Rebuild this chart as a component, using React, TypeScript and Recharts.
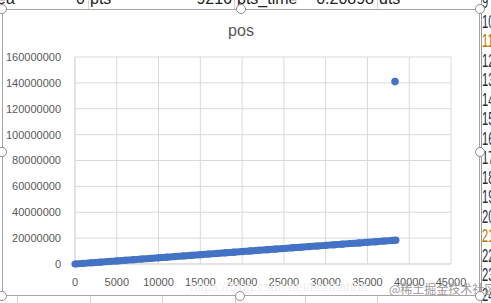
import {
  CartesianGrid,
  Scatter,
  ScatterChart,
  XAxis,
  YAxis,
} from "recharts";

// packet index vs byte position
const packetIdx = [
  0, 1000, 2000, 3000, 4000, 5000, 6000, 7000, 8000, 9000, 10000, 11000, 12000,
  13000, 14000, 15000, 16000, 17000, 18000, 19000, 20000, 21000, 22000, 23000,
  24000, 25000, 26000, 27000, 28000, 29000, 30000, 31000, 32000, 33000, 34000,
  35000, 36000, 37000, 38000, 38400,
];
const bytePos = [
  0, 480000, 960000, 1440000, 1920000, 2400000, 2880000, 3360000, 3840000,
  4320000, 4800000, 5280000, 5760000, 6240000, 6720000, 7200000, 7680000,
  8160000, 8640000, 9120000, 9600000, 10080000, 10560000, 11040000, 11520000,
  12000000, 12480000, 12960000, 13440000, 13920000, 14400000, 14880000,
  15360000, 15840000, 16320000, 16800000, 17280000, 17760000, 18240000,
  18430000,
];
const outlierIdx = [38300];
const outlierPos = [141000000];

const xTicks = [0, 5000, 10000, 15000, 20000, 25000, 30000, 35000, 40000, 45000];
const yTicks = [
  0, 20000000, 40000000, 60000000, 80000000, 100000000, 120000000, 140000000,
  160000000,
];

const topCells = [
  { text: "ea", left: -3, right: undefined },
  { text: "0", left: undefined, right: 491 - 85 },
  { text: "pts", left: 90, right: undefined },
  { text: "9216", left: undefined, right: 491 - 232 },
  { text: "pts_time", left: 237, right: undefined },
  { text: "0.20898", left: undefined, right: 491 - 374 },
  { text: "dts", left: 379, right: undefined },
];
const rowNums = [9, 10, 11, 12, 13, 14, 15, 16, 17, 18, 19, 20, 21, 22, 23, 24];

const BLUE = "#4472C4";
const GRID = "#d9d9d9";
const FONT = "'Liberation Sans', Arial, sans-serif";

const mainData = packetIdx.map((x, i) => ({ x, y: bytePos[i] }));
const outlierData = outlierIdx.map((x, i) => ({ x, y: outlierPos[i] }));

function Handle({ x, y }: { x: number; y: number }) {
  return (
    <div
      style={{
        position: "absolute",
        left: x - 5,
        top: y - 5,
        width: 8,
        height: 8,
        borderRadius: "50%",
        border: "1.5px solid #8c8c8c",
        background: "#fff",
      }}
    />
  );
}

export default function App() {
  return (
    <div
      style={{
        position: "absolute",
        left: 0,
        top: 0,
        width: 491,
        height: 303,
        overflow: "hidden",
        background: "#fff",
        fontFamily: FONT,
      }}
    >
      {/* spreadsheet behind the chart */}
      {[88, 234, 377].map((x) => (
        <div
          key={x}
          style={{ position: "absolute", left: x, top: 0, width: 1, height: 9, background: "#d4d4d4" }}
        />
      ))}
      {[17, 90, 162, 235, 305, 377].map((x) => (
        <div
          key={"b" + x}
          style={{ position: "absolute", left: x, top: 296, width: 1, height: 7, background: "#d4d4d4" }}
        />
      ))}
      {topCells.map((c) => (
        <div
          key={c.text}
          style={{
            position: "absolute",
            top: -10,
            left: c.left,
            right: c.right,
            fontSize: 16,
            color: "#222",
            whiteSpace: "nowrap",
          }}
        >
          {c.text}
        </div>
      ))}
      <div
        style={{ position: "absolute", left: 481, top: 0, width: 1, height: 303, background: "#9a9a9a" }}
      />
      {rowNums.map((n, i) => (
        <div
          key={n}
          style={{
            position: "absolute",
            left: 482,
            top: -8 + i * 19.5,
            fontSize: 18,
            transform: "scaleX(0.62)",
            transformOrigin: "left top",
            color: n === 11 || n === 21 ? "#c07000" : "#1f2d3d",
            whiteSpace: "nowrap",
          }}
        >
          {n}
        </div>
      ))}

      {/* chart object */}
      <div
        style={{
          position: "absolute",
          left: 2,
          top: 9,
          width: 478,
          height: 287,
          boxSizing: "border-box",
          border: "1px solid #a6a6a6",
          background: "#fff",
        }}
      >
        <div
          style={{
            position: "absolute",
            left: 0,
            right: 0,
            top: 12,
            textAlign: "center",
            fontSize: 16,
            color: "#595959",
          }}
        >
          pos
        </div>
        <ScatterChart
          width={476}
          height={285}
          margin={{ top: 47, right: 28, left: 0, bottom: 0 }}
        >
          <CartesianGrid stroke={GRID} strokeWidth={1} />
          <XAxis
            type="number"
            dataKey="x"
            domain={[0, 45000]}
            ticks={xTicks}
            interval={0}
            height={31}
            axisLine={{ stroke: GRID }}
            tickLine={false}
            tickMargin={8}
            tick={{ fontSize: 11, fill: "#595959", fontFamily: FONT }}
          />
          <YAxis
            type="number"
            dataKey="y"
            domain={[0, 160000000]}
            ticks={yTicks}
            interval={0}
            width={72}
            axisLine={{ stroke: GRID }}
            tickLine={false}
            tickMargin={8}
            tick={{ fontSize: 11, fill: "#595959", fontFamily: FONT }}
          />
          <Scatter
            data={mainData}
            fill={BLUE}
            line={{ stroke: BLUE, strokeWidth: 7 }}
            shape={(p: any) => <circle cx={p.cx} cy={p.cy} r={3.6} fill={BLUE} />}
            isAnimationActive={false}
          />
          <Scatter
            data={outlierData}
            fill={BLUE}
            shape={(p: any) => <circle cx={p.cx} cy={p.cy} r={3.8} fill={BLUE} />}
            isAnimationActive={false}
          />
        </ScatterChart>
      </div>

      {/* watermark */}
      <div
        style={{
          position: "absolute",
          left: 190,
          top: 279,
          fontSize: 13,
          color: "#efefef",
          whiteSpace: "nowrap",
        }}
      >
        https://blog.csdn.net/hhhhhhhh
      </div>
      <div
        style={{
          position: "absolute",
          left: 389,
          top: 280,
          fontSize: 12,
          color: "#9a9a9a",
          whiteSpace: "nowrap",
          fontFamily: "'Noto Sans CJK SC', sans-serif",
        }}
      >
        @稀土掘金技术社区
      </div>

      {[
        [2, 9],
        [241, 9],
        [480, 9],
        [2, 152],
        [480, 152],
        [2, 296],
        [240, 296],
        [480, 296],
      ].map(([x, y]) => (
        <Handle key={x + "-" + y} x={x} y={y} />
      ))}
    </div>
  );
}
